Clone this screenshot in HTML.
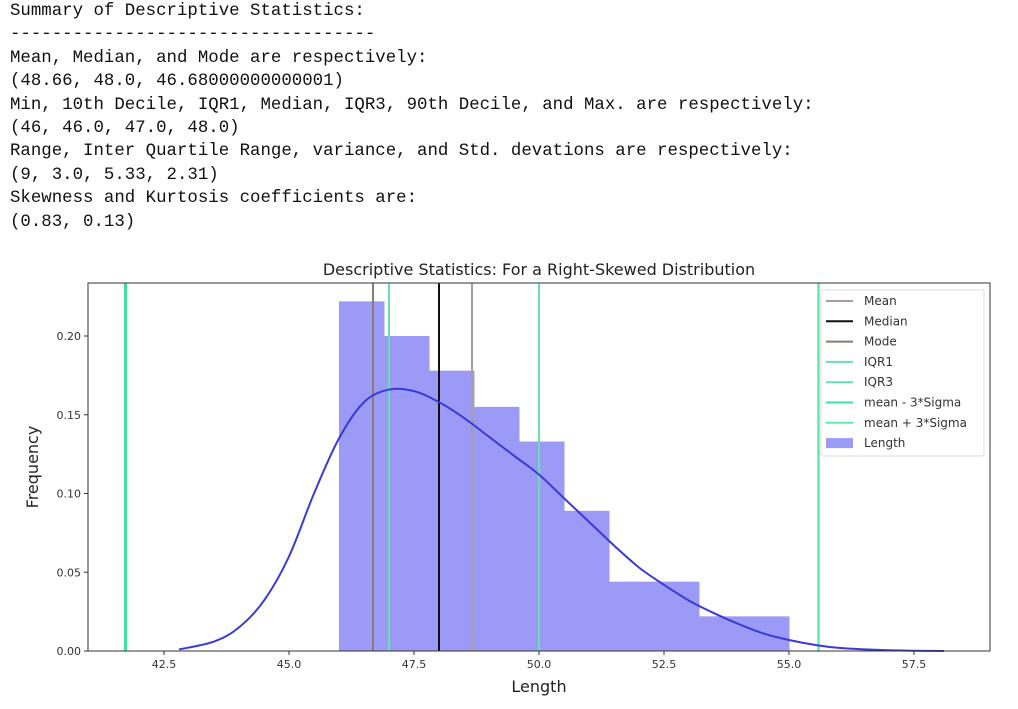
<!DOCTYPE html>
<html><head><meta charset="utf-8"><style>
body{margin:0;background:#fff;width:1018px;height:709px;overflow:hidden}
pre{position:absolute;left:10px;top:0;margin:0;font-family:"Liberation Mono",monospace;font-size:17.4px;line-height:23.4px;color:#111}
svg{position:absolute;left:0;top:0}
text{font-family:"DejaVu Sans","Liberation Sans",sans-serif}
</style></head><body>
<pre>Summary of Descriptive Statistics:
-----------------------------------
Mean, Median, and Mode are respectively:
(48.66, 48.0, 46.68000000000001)
Min, 10th Decile, IQR1, Median, IQR3, 90th Decile, and Max. are respectively:
(46, 46.0, 47.0, 48.0)
Range, Inter Quartile Range, variance, and Std. devations are respectively:
(9, 3.0, 5.33, 2.31)
Skewness and Kurtosis coefficients are:
(0.83, 0.13)</pre>
<svg id="chart" width="1018" height="709"></svg>
<script>
const binStart=46, binWidth=0.9;
const binHeights=[0.222,0.200,0.178,0.155,0.133,0.089,0.044,0.044,0.022,0.022];
const kdeX=[42.8,43.5,44,44.5,45,45.5,46,46.5,47,47.5,48,48.5,49,49.5,50,50.5,51,51.5,52,52.5,53,53.5,54,54.5,55,55.5,56,57,58.1];
const kdeY=[0.001,0.006,0.015,0.032,0.06,0.1,0.135,0.158,0.166,0.165,0.158,0.148,0.136,0.124,0.112,0.097,0.082,0.067,0.053,0.042,0.032,0.024,0.017,0.011,0.007,0.004,0.002,0.0005,0];
const xTicks=[42.5,45.0,47.5,50.0,52.5,55.0,57.5];
const yTicks=[0,0.05,0.10,0.15,0.20];
const vlineNames=['Mean','Median','Mode','IQR1','IQR3','mean - 3*Sigma','mean + 3*Sigma'];
const vlineVals=[48.66,48.0,46.68,47.0,50.0,41.73,55.59];
const vlineColors=['#a89c9c','#111','#8c7b70','#66e0b0','#66e0b0','#40e0a0','#60e8b0'];
const vlineW=[2,2,2,2,2,3,2.5];
const L=88,R=990,T=283,B=651;
const sx=v=>164+(v-42.5)*50, sy=v=>B-v*1575;
const svg=document.getElementById('chart'), NS='http://www.w3.org/2000/svg';
function mk(t,a,p){const e=document.createElementNS(NS,t);for(const k in a)e.setAttribute(k,a[k]);(p||svg).appendChild(e);return e;}
binHeights.forEach((h,i)=>{const r=mk('rect',{x:sx(binStart+i*binWidth),y:sy(h),width:binWidth*50+0.5,height:B-sy(h),fill:'#9b9bf7'});

});
vlineVals.forEach((v,i)=>{const l=mk('line',{x1:sx(v),x2:sx(v),y1:T,y2:B,stroke:vlineColors[i],'stroke-width':vlineW[i]});

});
const P=kdeX.map((x,i)=>[sx(x),sy(kdeY[i])]);
let d='M'+P[0][0]+','+P[0][1];
for(let i=0;i<P.length-1;i++){const p0=P[Math.max(0,i-1)],p1=P[i],p2=P[i+1],p3=P[Math.min(P.length-1,i+2)];
d+=' C'+(p1[0]+(p2[0]-p0[0])/6)+','+(p1[1]+(p2[1]-p0[1])/6)+' '+(p2[0]-(p3[0]-p1[0])/6)+','+(p2[1]-(p3[1]-p1[1])/6)+' '+p2[0]+','+p2[1];}
const kde=mk('path',{d:d,fill:'none',stroke:'#3a3ad8','stroke-width':2});


const fr=mk('rect',{x:L,y:T,width:R-L,height:B-T,fill:'none',stroke:'#333','stroke-width':1});


xTicks.forEach(v=>{mk('line',{x1:sx(v),x2:sx(v),y1:B,y2:B+4,stroke:'#333'});const t=mk('text',{x:sx(v),y:B+17,'text-anchor':'middle','font-size':11,fill:'#333'});t.textContent=v.toFixed(1);

});
yTicks.forEach(v=>{mk('line',{x1:L-4,x2:L,y1:sy(v),y2:sy(v),stroke:'#333'});const t=mk('text',{x:L-7,y:sy(v)+4,'text-anchor':'end','font-size':11,fill:'#333'});t.textContent=v.toFixed(2);

});
let t=mk('text',{x:539,y:275,'text-anchor':'middle','font-size':16,fill:'#222'});t.textContent='Descriptive Statistics: For a Right-Skewed Distribution';


t=mk('text',{x:539,y:692,'text-anchor':'middle','font-size':16,fill:'#222'});t.textContent='Length';


t=mk('text',{x:38,y:467,'text-anchor':'middle','font-size':16,fill:'#222',transform:'rotate(-90 38 467)'});t.textContent='Frequency';


const lg=mk('g',{});


mk('rect',{x:821,y:290,width:163,height:166,fill:'#fff','fill-opacity':0.85,stroke:'#ddd',rx:2},lg);
const names=vlineNames.concat(['Length']);
names.forEach((n,i)=>{const y=301+i*20.3;
if(i<7)mk('line',{x1:826,x2:853,y1:y,y2:y,stroke:vlineColors[i],'stroke-width':2},lg);
else mk('rect',{x:826,y:y-5,width:27,height:10,fill:'#9b9bf7'},lg);
const e=mk('text',{x:864,y:y+4,'font-size':12,fill:'#333'},lg);e.textContent=n;

});
</script>
</body></html>
